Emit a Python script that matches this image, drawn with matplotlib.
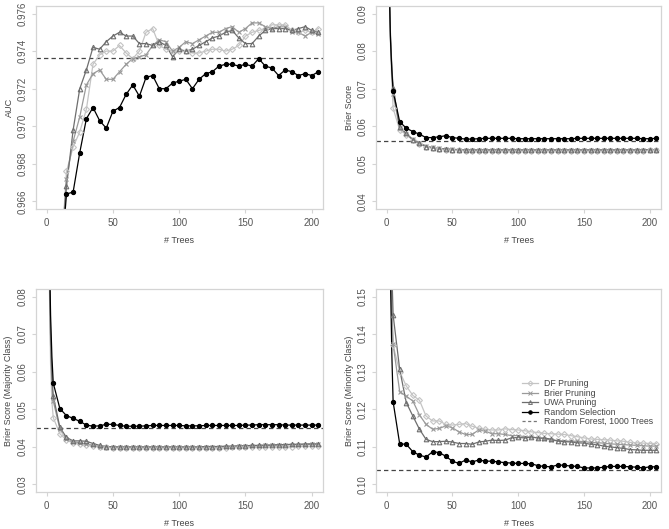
import numpy as np
import matplotlib
matplotlib.use('Agg')
import matplotlib.pyplot as plt
from matplotlib.ticker import FormatStrFormatter

plt.rcParams['font.family'] = ['Liberation Sans', 'DejaVu Sans']

# tree counts
trees_auc = [10] + list(range(15, 206, 5))
trees = [1, 2, 3, 4] + list(range(5, 206, 5))

# ---- AUC ----
auc_df = [0.9620, 0.9676, 0.9689, 0.9697, 0.9709, 0.9733, 0.9738, 0.9740, 0.9740, 0.9743,
          0.9739, 0.9736, 0.9740, 0.9750, 0.9752, 0.9743, 0.9741, 0.9740, 0.9740, 0.9740,
          0.9739, 0.9739, 0.9740, 0.9741, 0.9741, 0.9740, 0.9741, 0.9743, 0.9748, 0.9750,
          0.9751, 0.9752, 0.9754, 0.9754, 0.9754, 0.9751, 0.9750, 0.9751, 0.9750, 0.9752]
auc_brier = [0.9622, 0.9672, 0.9692, 0.9705, 0.9722, 0.9728, 0.9730, 0.9725, 0.9725, 0.9729,
             0.9733, 0.9736, 0.9737, 0.9738, 0.9743, 0.9746, 0.9745, 0.9740, 0.9742, 0.9745,
             0.9744, 0.9746, 0.9748, 0.9750, 0.9750, 0.9752, 0.9753, 0.9750, 0.9752, 0.9755,
             0.9755, 0.9753, 0.9752, 0.9753, 0.9753, 0.9750, 0.9750, 0.9748, 0.9750, 0.9749]
auc_uwa = [0.9625, 0.9668, 0.9698, 0.9720, 0.9730, 0.9742, 0.9741, 0.9745, 0.9748, 0.9750,
           0.9748, 0.9748, 0.9744, 0.9744, 0.9743, 0.9745, 0.9743, 0.9737, 0.9741, 0.9740,
           0.9741, 0.9743, 0.9745, 0.9747, 0.9748, 0.9750, 0.9751, 0.9747, 0.9744, 0.9744,
           0.9748, 0.9751, 0.9752, 0.9752, 0.9752, 0.9751, 0.9752, 0.9753, 0.9751, 0.9750]
auc_random = [0.9620, 0.9664, 0.9665, 0.9686, 0.9704, 0.9710, 0.9703, 0.9699, 0.9708, 0.9710,
              0.9717, 0.9722, 0.9716, 0.9726, 0.9727, 0.9720, 0.9720, 0.9723, 0.9724, 0.9725,
              0.9720, 0.9725, 0.9728, 0.9729, 0.9732, 0.9733, 0.9733, 0.9732, 0.9733, 0.9732,
              0.9736, 0.9732, 0.9731, 0.9727, 0.9730, 0.9729, 0.9727, 0.9728, 0.9727, 0.9729]
auc_rf = 0.97365

# ---- Brier score ----
bs_df = [0.150, 0.098, 0.082, 0.072, 0.0648, 0.0590, 0.0578, 0.0563, 0.0553, 0.0545,
         0.0542, 0.0539, 0.0538, 0.0537, 0.0536, 0.0535, 0.0535, 0.0535, 0.0535, 0.0535,
         0.0535, 0.0535, 0.0535, 0.0535, 0.0535, 0.0535, 0.0535, 0.0535, 0.0535, 0.0535,
         0.0535, 0.0535, 0.0535, 0.0535, 0.0535, 0.0535, 0.0535, 0.0535, 0.0535, 0.0535,
         0.0535, 0.0535, 0.0535, 0.0536, 0.0536]
bs_brier = [0.150, 0.099, 0.084, 0.075, 0.0685, 0.0595, 0.0580, 0.0565, 0.0556, 0.0547,
            0.0544, 0.0541, 0.0540, 0.0539, 0.0538, 0.0537, 0.0537, 0.0537, 0.0537, 0.0537,
            0.0537, 0.0537, 0.0537, 0.0537, 0.0537, 0.0537, 0.0537, 0.0537, 0.0537, 0.0537,
            0.0537, 0.0537, 0.0537, 0.0537, 0.0537, 0.0537, 0.0537, 0.0537, 0.0537, 0.0537,
            0.0537, 0.0537, 0.0537, 0.0538, 0.0538]
bs_uwa = [0.150, 0.099, 0.084, 0.076, 0.0703, 0.0597, 0.0581, 0.0564, 0.0555, 0.0546,
          0.0543, 0.0540, 0.0540, 0.0538, 0.0537, 0.0537, 0.0537, 0.0537, 0.0537, 0.0537,
          0.0537, 0.0537, 0.0537, 0.0537, 0.0537, 0.0537, 0.0537, 0.0537, 0.0537, 0.0537,
          0.0537, 0.0537, 0.0537, 0.0537, 0.0537, 0.0537, 0.0537, 0.0537, 0.0537, 0.0537,
          0.0537, 0.0537, 0.0537, 0.0538, 0.0538]
bs_random = [0.150, 0.098, 0.083, 0.075, 0.0694, 0.0612, 0.0595, 0.0586, 0.0579, 0.0570,
             0.0570, 0.0572, 0.0575, 0.0570, 0.0568, 0.0566, 0.0566, 0.0567, 0.0568, 0.0568,
             0.0568, 0.0568, 0.0568, 0.0567, 0.0567, 0.0567, 0.0567, 0.0567, 0.0567, 0.0567,
             0.0567, 0.0567, 0.0568, 0.0568, 0.0568, 0.0568, 0.0568, 0.0568, 0.0568, 0.0568,
             0.0568, 0.0568, 0.0567, 0.0567, 0.0568]
bs_rf = 0.0560

# ---- Brier score, majority class ----
maj_df = [0.135, 0.085, 0.062, 0.052, 0.0478, 0.0435, 0.0418, 0.0410, 0.0407, 0.0405,
          0.0402, 0.0400, 0.0399, 0.0398, 0.0398, 0.0398, 0.0398, 0.0398, 0.0398, 0.0398,
          0.0398, 0.0398, 0.0398, 0.0398, 0.0398, 0.0398, 0.0398, 0.0398, 0.0398, 0.0398,
          0.0398, 0.0399, 0.0399, 0.0399, 0.0400, 0.0400, 0.0400, 0.0401, 0.0401, 0.0401,
          0.0401, 0.0402, 0.0402, 0.0402, 0.0402]
maj_brier = [0.135, 0.088, 0.067, 0.057, 0.0522, 0.0448, 0.0420, 0.0413, 0.0411, 0.0408,
             0.0404, 0.0401, 0.0400, 0.0400, 0.0399, 0.0399, 0.0399, 0.0399, 0.0399, 0.0399,
             0.0399, 0.0399, 0.0399, 0.0399, 0.0399, 0.0399, 0.0399, 0.0400, 0.0400, 0.0400,
             0.0401, 0.0401, 0.0402, 0.0402, 0.0403, 0.0403, 0.0404, 0.0404, 0.0405, 0.0405,
             0.0406, 0.0406, 0.0406, 0.0407, 0.0407]
maj_uwa = [0.135, 0.090, 0.070, 0.059, 0.0536, 0.0452, 0.0425, 0.0416, 0.0416, 0.0415,
           0.0409, 0.0404, 0.0401, 0.0400, 0.0400, 0.0400, 0.0400, 0.0400, 0.0400, 0.0400,
           0.0400, 0.0400, 0.0400, 0.0400, 0.0400, 0.0400, 0.0400, 0.0401, 0.0401, 0.0401,
           0.0402, 0.0402, 0.0403, 0.0403, 0.0404, 0.0404, 0.0405, 0.0405, 0.0406, 0.0406,
           0.0407, 0.0407, 0.0408, 0.0408, 0.0408]
maj_random = [0.140, 0.095, 0.075, 0.064, 0.0570, 0.0502, 0.0483, 0.0476, 0.0468, 0.0458,
              0.0455, 0.0456, 0.0460, 0.0460, 0.0457, 0.0455, 0.0455, 0.0455, 0.0456, 0.0457,
              0.0457, 0.0457, 0.0457, 0.0457, 0.0456, 0.0456, 0.0456, 0.0457, 0.0457, 0.0457,
              0.0457, 0.0457, 0.0457, 0.0458, 0.0458, 0.0459, 0.0459, 0.0459, 0.0459, 0.0458,
              0.0458, 0.0458, 0.0458, 0.0458, 0.0458]
maj_rf = 0.0451

# ---- Brier score, minority class ----
min_df = [0.300, 0.200, 0.160, 0.145, 0.1370, 0.1300, 0.1262, 0.1237, 0.1224, 0.1182,
          0.1169, 0.1169, 0.1160, 0.1158, 0.1160, 0.1162, 0.1155, 0.1150, 0.1147, 0.1145,
          0.1145, 0.1148, 0.1146, 0.1145, 0.1143, 0.1140, 0.1138, 0.1136, 0.1135, 0.1134,
          0.1133, 0.1130, 0.1127, 0.1124, 0.1121, 0.1120, 0.1119, 0.1118, 0.1116, 0.1115,
          0.1112, 0.1111, 0.1110, 0.1109, 0.1109]
min_brier = [0.300, 0.200, 0.165, 0.148, 0.1373, 0.1247, 0.1235, 0.1222, 0.1185, 0.1160,
             0.1147, 0.1149, 0.1156, 0.1151, 0.1140, 0.1133, 0.1133, 0.1145, 0.1142, 0.1135,
             0.1135, 0.1133, 0.1130, 0.1130, 0.1127, 0.1126, 0.1124, 0.1122, 0.1118, 0.1117,
             0.1116, 0.1115, 0.1115, 0.1114, 0.1112, 0.1111, 0.1110, 0.1108, 0.1107, 0.1106,
             0.1105, 0.1104, 0.1103, 0.1102, 0.1102]
min_uwa = [0.300, 0.210, 0.175, 0.157, 0.1451, 0.1306, 0.1218, 0.1182, 0.1147, 0.1120,
           0.1114, 0.1114, 0.1115, 0.1113, 0.1109, 0.1109, 0.1107, 0.1113, 0.1115, 0.1118,
           0.1117, 0.1118, 0.1124, 0.1125, 0.1124, 0.1126, 0.1124, 0.1123, 0.1121, 0.1115,
           0.1114, 0.1113, 0.1111, 0.1110, 0.1107, 0.1106, 0.1102, 0.1100, 0.1098, 0.1096,
           0.1093, 0.1092, 0.1091, 0.1091, 0.1091]
min_random = [0.300, 0.200, 0.155, 0.135, 0.1220, 0.1108, 0.1107, 0.1087, 0.1078, 0.1073,
              0.1087, 0.1085, 0.1075, 0.1062, 0.1056, 0.1065, 0.1060, 0.1065, 0.1062, 0.1062,
              0.1060, 0.1058, 0.1057, 0.1056, 0.1056, 0.1055, 0.1050, 0.1048, 0.1047, 0.1052,
              0.1051, 0.1049, 0.1048, 0.1044, 0.1044, 0.1044, 0.1046, 0.1048, 0.1048, 0.1048,
              0.1047, 0.1046, 0.1044, 0.1047, 0.1047]
min_rf = 0.1038

labels = ['DF Pruning', 'Brier Pruning', 'UWA Pruning', 'Random Selection',
          'Random Forest, 1000 Trees']
colors = ['#c4c4c4', '#9a9a9a', '#6e6e6e', '#000000']
markers = ['D', 'x', '^', 'o']
msizes = [3.0, 3.3, 3.3, 3.0]
mfaces = ['none', 'none', 'none', '#000000']

fig = plt.figure(figsize=(6.69, 5.29), dpi=100)
W, H = 669.0, 529.0


def panel(box, x, series, rf, ylim, yticks, fmt, ylabel, legend=False):
    l, t, r, b = box
    ax = fig.add_axes([l / W, 1 - b / H, (r - l) / W, (b - t) / H])
    x = np.array(x)
    for ys, c, m, ms, mf, lab in zip(series, colors, markers, msizes, mfaces, labels):
        ys = np.array(ys)
        ax.plot(x, ys, color=c, lw=0.9, zorder=2)
        sel = (x % 5 == 0) & (x >= 5)
        ax.plot(x[sel], ys[sel], ls='none', marker=m, ms=ms, mfc=mf, mec=c,
                mew=0.8, zorder=3)
    ax.axhline(rf, color='#444444', lw=0.9, ls=(0, (3.5, 2.5)), zorder=1)
    ax.set_xlim(-8, 208.5)
    ax.set_ylim(*ylim)
    ax.set_xticks([0, 50, 100, 150, 200])
    ax.set_yticks(yticks)
    ax.yaxis.set_major_formatter(FormatStrFormatter(fmt))
    for s in ax.spines.values():
        s.set_color('#d4d4d4')
        s.set_linewidth(0.9)
    ax.tick_params(colors='#d4d4d4', labelcolor='#555555', labelsize=7,
                   length=3, width=0.8)
    ax.tick_params(axis='y', pad=3)
    for lab in ax.get_yticklabels():
        lab.set_rotation(90)
        lab.set_va('center')
    ax.set_xlabel('# Trees', fontsize=6.5, color='#444444', labelpad=6)
    ax.set_ylabel(ylabel, fontsize=6.5, color='#444444', labelpad=3)
    if legend:
        handles = []
        for c, m, ms, mf, lab in zip(colors, markers, msizes, mfaces, labels):
            h, = ax.plot([], [], color=c, lw=0.9, marker=m, ms=ms - 0.5, mfc=mf,
                         mec=c, mew=0.7, label=lab)
            handles.append(h)
        h, = ax.plot([], [], color='#777777', lw=0.9, ls=(0, (2.5, 2)), label=labels[4])
        handles.append(h)
        ax.legend(handles=handles, loc='upper left', bbox_to_anchor=(0.49, 0.585),
                  frameon=False, fontsize=6.3, handlelength=1.8, handletextpad=0.7,
                  labelspacing=0.05, borderpad=0.2, labelcolor='#444444')
    return ax


panel((36, 6, 323, 209), trees_auc, [auc_df, auc_brier, auc_uwa, auc_random], auc_rf,
      (0.9656, 0.9764), [0.966, 0.968, 0.970, 0.972, 0.974, 0.976], '%.3f', 'AUC')
panel((376, 6, 661, 209), trees, [bs_df, bs_brier, bs_uwa, bs_random], bs_rf,
      (0.038, 0.092), [0.04, 0.05, 0.06, 0.07, 0.08, 0.09], '%.2f', 'Brier Score')
panel((36, 289, 323, 492), trees, [maj_df, maj_brier, maj_uwa, maj_random], maj_rf,
      (0.028, 0.082), [0.03, 0.04, 0.05, 0.06, 0.07, 0.08], '%.2f',
      'Brier Score (Majority Class)')
panel((376, 289, 661, 492), trees, [min_df, min_brier, min_uwa, min_random], min_rf,
      (0.098, 0.152), [0.10, 0.11, 0.12, 0.13, 0.14, 0.15], '%.2f',
      'Brier Score (Minority Class)', legend=True)

fig.savefig('out.png', dpi=100)
